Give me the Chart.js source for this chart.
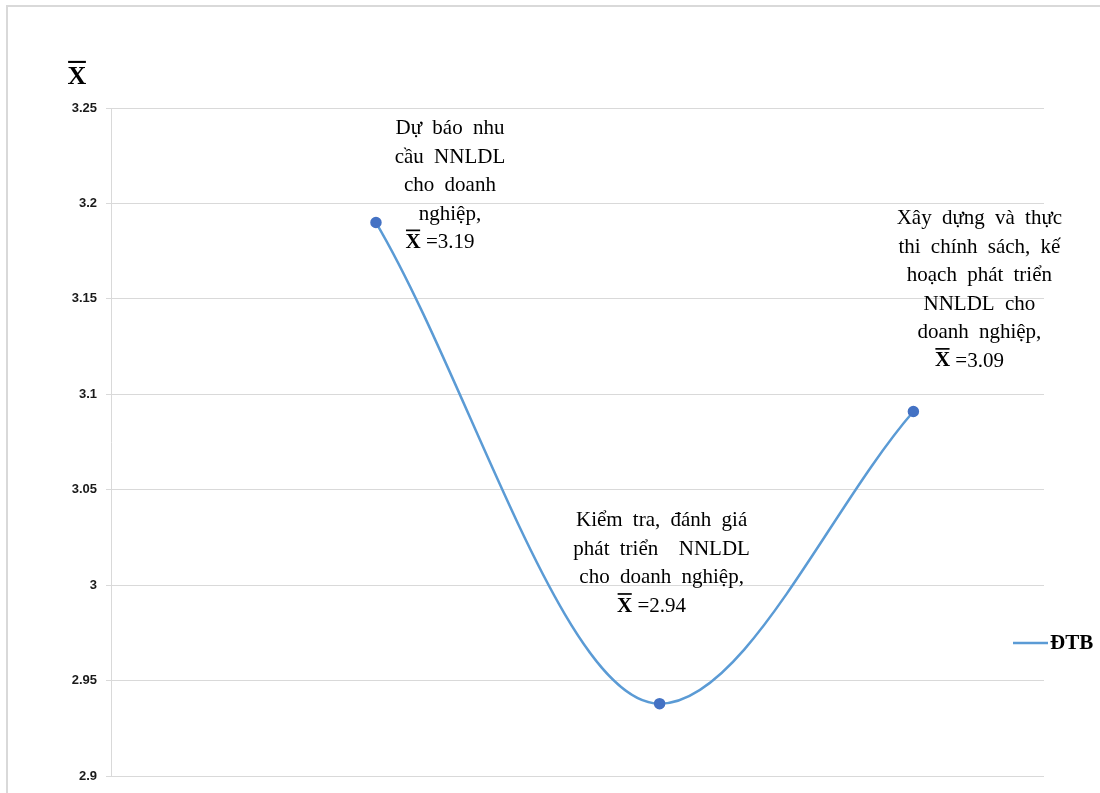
<!DOCTYPE html>
<html>
<head>
<meta charset="utf-8">
<script src="https://cdn.jsdelivr.net/npm/chart.js@4"></script>
<style>
html,body{margin:0;padding:0;background:#fff;}
#wrap{width:1100px;height:793px;position:relative;}
</style>
</head>
<body>
<div id="wrap"><canvas id="c" width="1100" height="793"></canvas></div>
<script>
// ---- data ----
const seriesName = "ĐTB";
const xPositions = [2.84, 5.88, 8.6];
const values = [3.19, 2.938, 3.091];
const pointLabels = [
  ["Dự báo nhu", "cầu NNLDL", "cho doanh", "nghiệp,"],
  ["Kiểm tra, đánh giá", "phát triển  NNLDL", "cho doanh nghiệp,"],
  ["Xây dựng và thực", "thi chính sách, kế", "hoạch phát triển", "NNLDL cho", "doanh nghiệp,"]
];
const meanLabels = ["=3.19", "=2.94", "=3.09"];
const yTicks = [2.9, 2.95, 3, 3.05, 3.1, 3.15, 3.2, 3.25];
const yTitle = "X";

// label offsets relative to the point (layout only)
const labelOffsets = [[74, -94], [2, -183], [66, -193]];

const SERIF = '"Liberation Serif", "Times New Roman", serif';

function drawXbar(ctx, x, yMid, size) {
  ctx.font = 'bold ' + size + 'px ' + SERIF;
  ctx.textBaseline = 'middle';
  ctx.textAlign = 'left';
  const w = ctx.measureText('X').width;
  ctx.fillText('X', x, yMid);
  ctx.fillRect(x + 0.5, yMid - size * 0.62, w - 1, Math.max(1.5, size * 0.08));
  return w;
}

const deco = {
  id: 'deco',
  beforeDraw(chart) {
    const ctx = chart.ctx;
    ctx.save();
    ctx.strokeStyle = '#d9d9d9';
    ctx.lineWidth = 2;
    ctx.strokeRect(7, 6, 1300, 1300);
    ctx.restore();
  },
  afterDraw(chart) {
    const ctx = chart.ctx;
    const meta = chart.getDatasetMeta(0);
    ctx.save();
    ctx.fillStyle = '#000';
    const ys = chart.scales.y;
    ctx.font = 'bold 26px ' + SERIF;
    const tw = ctx.measureText(yTitle).width;
    drawXbar(ctx, 77 - tw / 2, ys.top - 31, 26);

    const fs = 21, lh = 28.5;
    meta.data.forEach((pt, i) => {
      const cx = pt.x + labelOffsets[i][0];
      let y = pt.y + labelOffsets[i][1];
      ctx.wordSpacing = '5px';
      pointLabels[i].forEach(line => {
        ctx.font = fs + 'px ' + SERIF;
        ctx.textAlign = 'center';
        ctx.textBaseline = 'middle';
        ctx.fillText(line, cx, y);
        y += lh;
      });
      ctx.wordSpacing = '0px';
      ctx.font = 'bold ' + fs + 'px ' + SERIF;
      const wx = ctx.measureText('X').width;
      ctx.font = fs + 'px ' + SERIF;
      const wm = ctx.measureText(' ' + meanLabels[i]).width;
      const x0 = cx - 10 - (wx + wm) / 2;
      drawXbar(ctx, x0, y, fs);
      ctx.font = fs + 'px ' + SERIF;
      ctx.textAlign = 'left';
      ctx.fillText(' ' + meanLabels[i], x0 + wx, y);
    });

    const ds = chart.data.datasets[0];
    const ly = 643;
    ctx.strokeStyle = ds.borderColor;
    ctx.lineWidth = 2.5;
    ctx.beginPath();
    ctx.moveTo(1013, ly);
    ctx.lineTo(1048, ly);
    ctx.stroke();
    ctx.font = 'bold 21px ' + SERIF;
    ctx.textAlign = 'left';
    ctx.textBaseline = 'middle';
    ctx.fillText(ds.label, 1050, ly + 1);
    ctx.restore();
  }
};

new Chart(document.getElementById('c'), {
  type: 'line',
  data: {
    datasets: [{
      label: seriesName,
      data: xPositions.map((x, i) => ({x: x, y: values[i]})),
      borderColor: '#5b9bd5',
      backgroundColor: '#4472c4',
      pointBackgroundColor: '#4472c4',
      pointBorderColor: '#4472c4',
      pointRadius: 4.5,
      borderWidth: 2.5,
      cubicInterpolationMode: 'monotone',
      fill: false
    }]
  },
  options: {
    responsive: false,
    animation: false,
    layout: {padding: {left: 0, right: 56, top: 108, bottom: 14}},
    plugins: {legend: {display: false}, tooltip: {enabled: false}},
    scales: {
      x: {
        type: 'linear', min: 0, max: 10, display: false
      },
      y: {
        min: 2.9, max: 3.25,
        afterBuildTicks(s) { s.ticks = yTicks.map(v => ({value: v})); },
        afterFit(s) { s.width = 111; },
        border: {display: true, color: '#d9d9d9', width: 1},
        grid: {color: '#d9d9d9', lineWidth: 1, drawTicks: true, tickLength: 5},
        ticks: {
          color: '#1a1a1a',
          font: {family: '"Liberation Sans", Arial, sans-serif', size: 13, weight: 'bold'},
          padding: 9,
          callback: v => String(+v.toFixed(2))
        }
      }
    }
  },
  plugins: [deco]
});
</script>
</body>
</html>
